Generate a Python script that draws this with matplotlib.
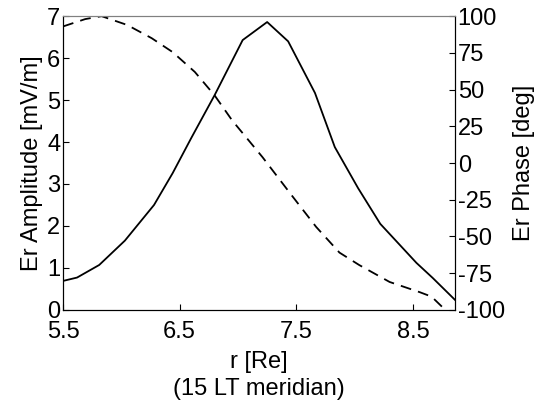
import matplotlib.pyplot as plt

plt.rcParams['font.family'] = ['Liberation Sans', 'DejaVu Sans']
plt.rcParams['axes.unicode_minus'] = False

# Er amplitude along the 15 LT meridian
r_amp = [5.50, 5.62, 5.81, 6.03, 6.28, 6.44, 6.60, 6.80, 7.04, 7.25, 7.43, 7.66, 7.83, 8.03, 8.22, 8.53, 8.67, 8.86]
amp = [0.69, 0.77, 1.07, 1.65, 2.50, 3.26, 4.10, 5.12, 6.43, 6.86, 6.40, 5.17, 3.88, 2.90, 2.05, 1.12, 0.76, 0.24]

# Er phase along the same meridian
r_phase = [5.50, 5.69, 5.83, 6.05, 6.26, 6.44, 6.63, 6.80, 6.95, 7.21, 7.47, 7.67, 7.87, 8.04, 8.30, 8.56, 8.66, 8.79]
phase = [93, 98, 100, 94, 85, 75.5, 62, 46, 29, 4, -23, -43.5, -61, -69.5, -81, -88, -91, -101]

fig = plt.figure(figsize=(5.39, 4.04), dpi=100)
ax = fig.add_axes([0.117, 0.233, 0.727, 0.727])
ax2 = ax.twinx()

ax.plot(r_amp, amp, color='black', lw=1.3)
ax2.plot(r_phase, phase, color='black', lw=1.3, linestyle=(0, (6, 4)))

ax.set_xlim(5.5, 8.86)
ax.set_ylim(0, 7)
ax2.set_ylim(-100, 100)

ax.set_xticks([5.5, 6.5, 7.5, 8.5])
ax.set_yticks(range(0, 8))
ax2.set_yticks(range(-100, 101, 25))

for a in (ax, ax2):
    a.tick_params(direction='in', length=4, labelsize=17, width=0.8)
    for s in a.spines.values():
        s.set_linewidth(0.8)
ax.spines['top'].set_color('#808080')
ax2.spines['top'].set_color('#808080')
ax.tick_params(axis='x', pad=8)
ax.tick_params(axis='y', pad=2)
ax2.tick_params(axis='y', pad=2)

ax.set_ylabel('Er Amplitude [mV/m]', fontsize=17, labelpad=3)
ax2.set_ylabel('Er Phase [deg]', fontsize=17, labelpad=6)
ax.set_xlabel('r [Re]\n(15 LT meridian)', fontsize=17, labelpad=6, linespacing=1.3)

fig.savefig('out.png', dpi=100)
